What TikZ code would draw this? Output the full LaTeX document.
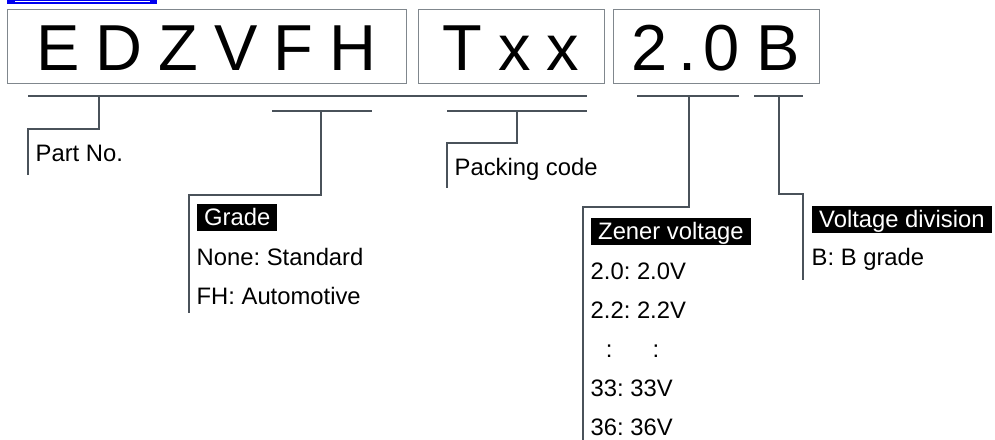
\documentclass[tikz,border=0pt]{standalone}
\usepackage{fontspec}
\setmainfont{Liberation Sans}
\frenchspacing
\definecolor{boxgray}{HTML}{80878D}
\definecolor{leadgray}{HTML}{4A525A}
\definecolor{linkblue}{HTML}{0000F0}
\newcommand\codefont{\fontsize{65}{70}\selectfont\spaceskip 16pt\relax}
\newcommand\itemfont{\fontsize{23.8}{28}\selectfont}
\tikzset{
  codebox/.style={draw=boxgray, line width=1pt, inner sep=0pt, minimum height=74pt,
    text height=49.4pt, text depth=0pt, font=\codefont},
  lead/.style={leadgray, line width=2pt},
  tag/.style={fill=black, text=white, inner xsep=7pt, inner ysep=0pt, text height=21.7pt,
    text depth=5.3pt, anchor=base west, font=\itemfont},
  item/.style={inner sep=0pt, anchor=base west, font=\itemfont},
}
\begin{document}
\begin{tikzpicture}[x=1pt,y=-1pt]
      \useasboundingbox (0,0) rectangle (995,439);
      % link frame cut off at the top edge
      \fill[linkblue] (7,0) rectangle (157,3.5);
      \draw[white,line width=0.7pt] (15,1.7) -- (150,1.7);

      \path (206.5,46) node [codebox,minimum width=399pt](code_part){E D Z V F H};
      \path (511,46) node [codebox,minimum width=186pt](code_pack){T x x};
      \path (716,46) node [codebox,minimum width=206pt](code_volt){2\hspace{11pt}.\hspace{7pt}0\hspace{17pt}B};

      \coordinate (bar_part_w) at (28,95.7);   \coordinate (bar_part_e) at (587,95.7);
      \coordinate (bar_grade_w) at (272,110.7); \coordinate (bar_grade_e) at (372,110.7);
      \coordinate (bar_pack_w) at (447,110.7);  \coordinate (bar_pack_e) at (587,110.7);
      \coordinate (bar_zener_w) at (637,95.7);  \coordinate (bar_zener_e) at (739,95.7);
      \coordinate (bar_div_w) at (754,95.7);    \coordinate (bar_div_e) at (803,95.7);

      \coordinate (tick_part) at (99,95.7);    \coordinate (knee_part) at (28,129);    \coordinate (end_part) at (28,175);
      \coordinate (tick_grade) at (321,110.7); \coordinate (knee_grade) at (189,195);  \coordinate (end_grade) at (189,313);
      \coordinate (tick_pack) at (517,110.7);  \coordinate (knee_pack) at (447,142.7); \coordinate (end_pack) at (447,188);
      \coordinate (tick_zener) at (689,95.7);  \coordinate (knee_zener) at (583,207.3); \coordinate (end_zener) at (583,440);
      \coordinate (tick_div) at (779,95.7);    \coordinate (knee_div) at (803,194);    \coordinate (end_div) at (803,280);

      \draw[lead] (bar_part_w) -- (bar_part_e);
      \draw[lead] (bar_grade_w) -- (bar_grade_e);
      \draw[lead] (bar_pack_w) -- (bar_pack_e);
      \draw[lead] (bar_zener_w) -- (bar_zener_e);
      \draw[lead] (bar_div_w) -- (bar_div_e);

      \draw[lead] (tick_part) |- (knee_part) -- (end_part);
      \draw[lead] (tick_grade) |- (knee_grade) -- (end_grade);
      \draw[lead] (tick_pack) |- (knee_pack) -- (end_pack);
      \draw[lead] (tick_zener) |- (knee_zener) -- (end_zener);
      \draw[lead] (tick_div) |- (knee_div) -- (end_div);

      \path (35.5,161) node [item](lbl_part){Part No.};
      \path (454.5,175) node [item](lbl_pack){Packing code};

      \path (197,225.7) node [tag](tag_grade){Grade\hspace{8pt}};
      \path (196.5,265) node [item](grade_std){None: Standard};
      \path (196.5,304) node [item](grade_auto){FH: Automotive};

      \path (591,239.7) node [tag](tag_zener){Zener voltage};
      \path (590.5,279) node [item](zener_a){2.0: 2.0V};
      \path (590.5,318) node [item](zener_b){2.2: 2.2V};
      \path (590.5,357) node [item](zener_dots){\hspace{15.2pt}:\hspace{40.1pt}:};
      \path (590.5,396) node [item](zener_c){33: 33V};
      \path (590.5,435) node [item](zener_d){36: 36V};

      \path (812,227.4) node [tag](tag_div){Voltage division};
      \path (811.5,265) node [item](div_b){B: B grade};

    \end{tikzpicture}
\end{document}
